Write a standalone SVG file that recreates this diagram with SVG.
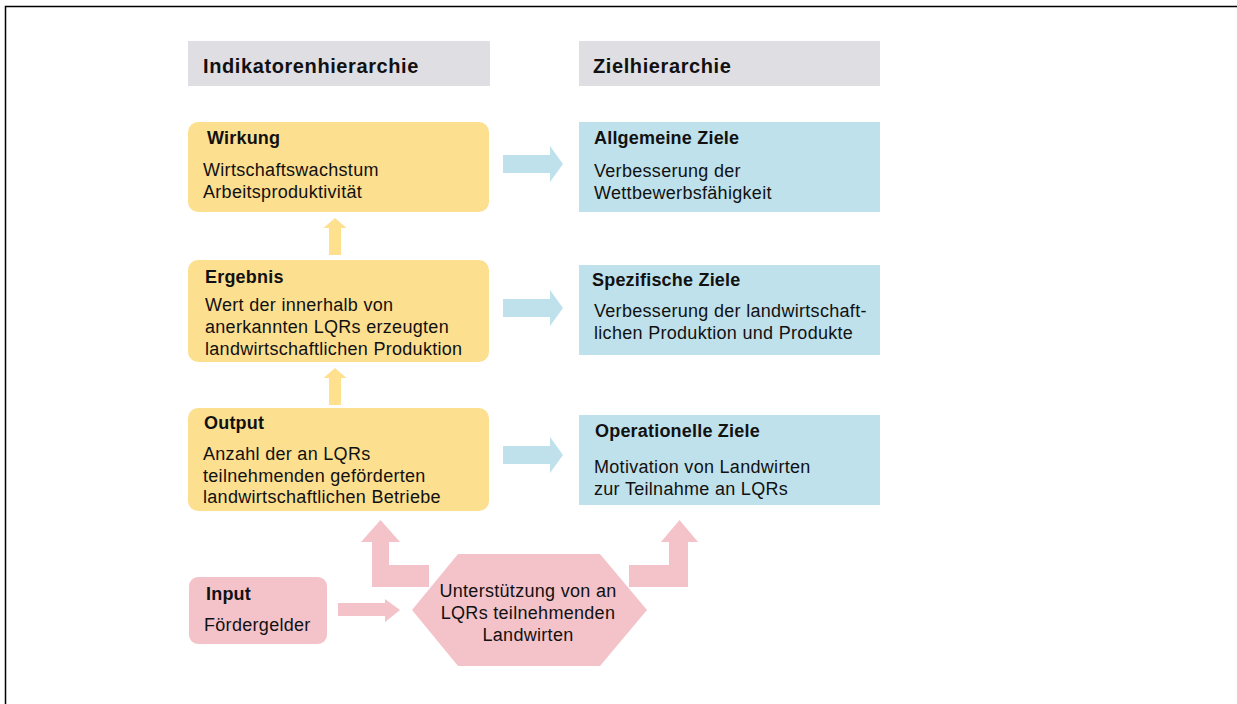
<svg xmlns="http://www.w3.org/2000/svg" width="1237" height="704" viewBox="0 0 1237 704">
<defs>
<style>
text{font-family:"Liberation Sans",Arial,sans-serif;fill:#111;}
.hd{font-size:20px;font-weight:bold;letter-spacing:0.6px;}
.tt{font-size:18px;font-weight:bold;letter-spacing:0.2px;}
.bd{font-size:18px;letter-spacing:0.3px;}
.yel{fill:#fddf90;}
.blu{fill:#bfe1eb;}
.pnk{fill:#f4c3ca;}
.gry{fill:#dfdee3;}
.ya{fill:#fee08f;}
.ba{fill:#bfe1eb;}
</style>
<polygon id="rarrow" points="0,-9 47,-9 47,-18 60,0 47,18 47,9 0,9"/>
<polygon id="uarrow" points="0,0 11.5,10 6,10 6,37 -6,37 -6,10 -11.5,10"/>
</defs>
<rect width="1237" height="704" fill="#fff"/>
<path d="M5.5,704 V6.5 H1237" fill="none" stroke="#000" stroke-width="1.5"/>

<g id="header-left">
<rect class="gry" x="188" y="41" width="302" height="45"/>
<text class="hd" x="203" y="73">Indikatorenhierarchie</text>
</g>
<g id="header-right">
<rect class="gry" x="579" y="41" width="301" height="45"/>
<text class="hd" x="593" y="73">Zielhierarchie</text>
</g>

<g id="wirkung">
<rect class="yel" x="188" y="122" width="301" height="90" rx="10"/>
<text class="tt" x="207" y="144">Wirkung</text>
<text class="bd" x="203" y="176">Wirtschaftswachstum</text>
<text class="bd" x="203" y="198">Arbeitsproduktivität</text>
</g>
<g id="ergebnis">
<rect class="yel" x="188" y="260" width="301" height="102" rx="10"/>
<text class="tt" x="205" y="283">Ergebnis</text>
<text class="bd" x="205" y="311">Wert der innerhalb von</text>
<text class="bd" x="205" y="333">anerkannten LQRs erzeugten</text>
<text class="bd" x="205" y="355">landwirtschaftlichen Produktion</text>
</g>
<g id="output">
<rect class="yel" x="188" y="408" width="301" height="103" rx="10"/>
<text class="tt" x="204" y="429">Output</text>
<text class="bd" x="203" y="460">Anzahl der an LQRs</text>
<text class="bd" x="203" y="482">teilnehmenden geförderten</text>
<text class="bd" x="203" y="503">landwirtschaftlichen Betriebe</text>
</g>
<g id="input">
<rect class="pnk" x="189" y="577" width="138" height="67" rx="9"/>
<text class="tt" x="206" y="600">Input</text>
<text class="bd" x="204" y="631">Fördergelder</text>
</g>
<g id="unterstuetzung">
<polygon class="pnk" points="412,610 458,554 600,554 647,610 600,666 458,666"/>
<text class="bd" x="528" y="597" text-anchor="middle">Unterstützung von an</text>
<text class="bd" x="528" y="619" text-anchor="middle">LQRs teilnehmenden</text>
<text class="bd" x="528" y="641" text-anchor="middle">Landwirten</text>
</g>

<g id="allgemeine-ziele">
<rect class="blu" x="579" y="122" width="301" height="90"/>
<text class="tt" x="594" y="144">Allgemeine Ziele</text>
<text class="bd" x="594" y="177">Verbesserung der</text>
<text class="bd" x="594" y="199">Wettbewerbsfähigkeit</text>
</g>
<g id="spezifische-ziele">
<rect class="blu" x="579" y="265" width="301" height="90"/>
<text class="tt" x="592" y="286">Spezifische Ziele</text>
<text class="bd" x="594" y="317">Verbesserung der landwirtschaft-</text>
<text class="bd" x="594" y="339">lichen Produktion und Produkte</text>
</g>
<g id="operationelle-ziele">
<rect class="blu" x="579" y="415" width="301" height="90"/>
<text class="tt" x="595" y="437">Operationelle Ziele</text>
<text class="bd" x="594" y="473">Motivation von Landwirten</text>
<text class="bd" x="594" y="495">zur Teilnahme an LQRs</text>
</g>

<g id="connectors">
<use href="#rarrow" class="ba" x="503" y="164"/>
<use href="#rarrow" class="ba" x="503" y="308"/>
<use href="#rarrow" class="ba" x="503" y="455"/>
<use href="#uarrow" class="ya" x="335" y="218"/>
<use href="#uarrow" class="ya" x="335" y="368"/>
<polygon class="pnk" points="338,603 385,603 385,599 400,610 385,622 385,616 338,616"/>
<polygon class="pnk" points="429,565 389,565 389,542 400,542 380.5,520 361,542 372,542 372,587 429,587"/>
<polygon class="pnk" points="629,565 669,565 669,542 661,542 679.5,520 698,542 688,542 688,587 629,587"/>
</g>
</svg>
